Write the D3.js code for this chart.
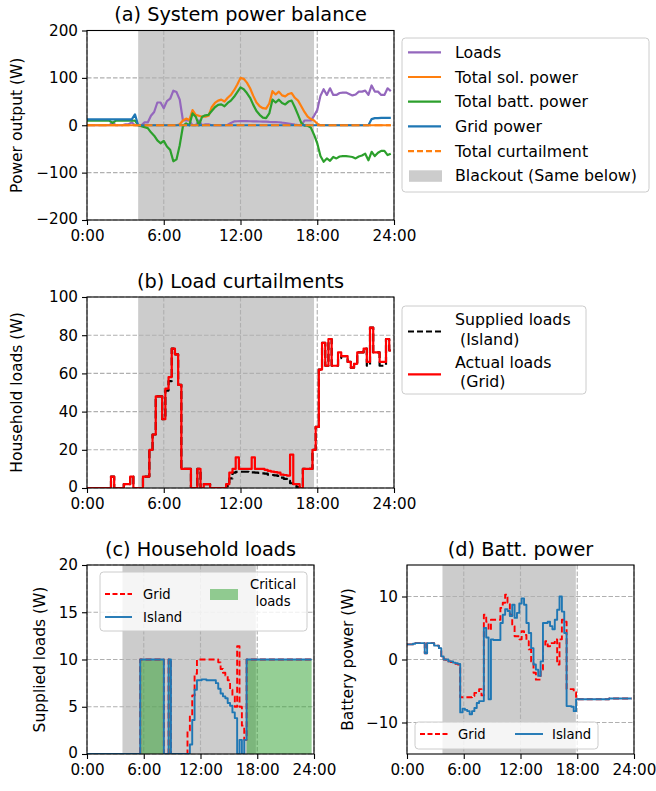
<!DOCTYPE html>
<html>
<head>
<meta charset="utf-8">
<script src="https://cdn.jsdelivr.net/npm/d3@7/dist/d3.min.js"></script>
<style>
html,body{margin:0;padding:0;background:#fff;}
svg text{font-family:"DejaVu Sans",sans-serif;}
</style>
</head>
<body>
<svg id="fig" width="656" height="791" xmlns="http://www.w3.org/2000/svg"></svg>
<script>
// ---------------- DATA (15-min resolution, 96 samples per day) ----------------
const hours = d3.range(96).map(i => i / 4);
const xTickValues = [0, 6, 12, 18, 24];
const xTickLabels = ["0:00", "6:00", "12:00", "18:00", "24:00"];

const yTicksA = [-200, -100, 0, 100, 200];
const yTicksB = [0, 20, 40, 60, 80, 100];
const yTicksC = [0, 5, 10, 15, 20];
const yTicksD = [-10, 0, 10];

const blackoutAB = [4.0, 17.75];
const blackoutCD = [3.75, 17.85];

// (a) System power balance
const loadsSupplied = [
  0,0,0,0,0,0,0,0,
  6,0,0,0,2,2,6,0,
  0,0,6,6,20,28,48,48,
  36,51,56,73,70,54,10,10,
  10,0,0,10,0,2,2,0,
  0,0,0,0,1,5,8,8.4,
  8.5,8.5,8.5,8.4,8.2,8.0,7.9,7.7,
  7.5,7.0,6.8,6.6,6.3,5.4,4.8,3.7,
  2.5,1.4,0.5,0,10,10,10,20,
  32,62,76,64,78,64,64,68,
  69,69,66,63,65,71,71,73,
  64,84,71,71,64,64,78,72
];
const loadsActual = [
  0,0,0,0,0,0,0,0,
  6,0,0,0,2,2,6,0,
  0,0,6,6,20,28,48,48,
  36,52,58,73,70,54,10,10,
  10,0,0,10,0,2,2,0,
  0,0,0,0,2,8,10,16,
  10,10,10,10,16,10,10,10,
  9.5,9.0,8.6,8.3,8.0,7.0,6.8,6.5,
  17.5,2,2,0,10,10,10,20,
  32,62,76,64,78,64,64,71,
  69,69,66,63,65,71,71,73,
  66,84,71,71,66,66,78,72
];
const solarPower = [
  0,0,0,0,0,0,0,0,
  0,0,0,0,0,0,0,0,
  0,0,0,0,0,0,0,0,
  0,0,0,0,0,2,10,14,
  11,32,22,20,18,18,20,38,
  47,52,54,50,58,64,74,86,
  100,98,90,78,62,48,40,36,
  35,46,72,65,71,63,61,66,
  68,58,52,40,28,18,13,10,
  3,0,0,0,0,0,0,0,
  0,0,0,0,0,0,0,0,
  0,0,0,0,0,0,0,0
];
const battPower = [
  9.5,9.5,9.5,9.5,9.5,9.5,9.5,9.5,
  5,9.5,9.5,9.5,9.5,9.5,9.5,10,
  0,-2,-4,-6,-15,-22,-32,-38,
  -33,-45,-52,-76,-72,-42,-2,4,
  0,25,18,0,18,21,22,30,
  38,43,44,40,47,52,60,70,
  80,76,68,58,43,30,22,16,
  15,25,54,48,54,47,44,50,
  52,38,22,5,-1,-1,-5,-20,
  -38,-65,-77,-70,-75,-67,-70,-66,
  -65,-65,-66,-67,-70,-66,-64,-60,
  -74,-56,-65,-58,-54,-54,-63,-60
];
const gridPower = [
  12.5,12.5,12.5,12.5,12.5,12.5,12.5,12.5,
  12.5,12.5,12.5,12.5,12.5,12.5,12.5,23,
  0,0,0,0,0,0,0,0,
  0,0,0,0,0,0,0,0,
  0,0,0,0,0,0,0,0,
  0,0,0,0,0,0,0,0,
  0,0,0,0,0,0,0,0,
  0,0,0,0,0,0,0,0,
  0,0,0,0,0,0,0,0,
  0,0,0,0,0,0,0,0,
  0,0,0,0,0,0,0,0,
  0,13,15,15,15.5,15.5,15.5,15.5
];
const curtailment = [
  0,0,0,0,0,0,0,0, 0,0,0,0,0,0,0,0, 0,0,0,0,0,0,0,0,
  0,0,0,0,0,0,0,0, 0,0,0,0,0,0,0,0, 0,0,0,0,0,0,0,0,
  0,0,0,0,0,0,0,0, 0,0,0,0,0,0,0,0, 0,0,0,0,0,0,0,0,
  0,0,0,0,0,0,0,0, 0,0,0,0,0,0,0,0, 0,0,0,0,0,0,0,0
];

// (c) Household loads
const houseGrid = [
  0,0,0,0,0,0,0,0,
  0,0,0,0,0,0,0,0,
  0,0,0,0,0,0,0,10,
  10,10,10,10,10,10,10,10,
  10,0,0,10,0,0,0,0,
  0,0,0,2.5,4.1,6.2,8.5,10,
  10,10,10,10,10,10,10,10,
  9.7,9.0,8.6,8.3,7.8,6.8,6.1,5.0,
  11.4,5.0,3.0,1.5,10,10,10,10,
  10,10,10,10,10,10,10,10,
  10,10,10,10,10,10,10,10,
  10,10,10,10,10,10,10,10
];
const houseIsland = [
  0,0,0,0,0,0,0,0,
  0,0,0,0,0,0,0,0,
  0,0,0,0,0,0,0,10,
  10,10,10,10,10,10,10,10,
  10,0,0,10,0,0,0,0,
  0,0,0,0,1.0,3.6,6.8,7.8,
  7.8,7.9,7.9,7.8,7.8,7.8,7.8,7.5,
  6.9,6.4,6.1,5.9,5.4,5.1,4.4,3.8,
  0,1.5,0,1.5,10,10,10,10,
  10,10,10,10,10,10,10,10,
  10,10,10,10,10,10,10,10,
  10,10,10,10,10,10,10,10
];
const criticalLoads = [
  0,0,0,0,0,0,0,0,
  0,0,0,0,0,0,0,0,
  0,0,0,0,0,0,0,10,
  10,10,10,10,10,10,10,10,
  10,0,0,10,0,0,0,0,
  0,0,0,0,0,0,0,0,
  0,0,0,0,0,0,0,0,
  0,0,0,0,0,0,0,0,
  0,0,0,0,10,10,10,10,
  10,10,10,10,10,10,10,10,
  10,10,10,10,10,10,10,10,
  10,10,10,10,10,10,10,10
];

// (d) Battery power
const battGrid = [
  2.4,2.4,2.4,2.5,2.6,2.6,2.6,2.6,
  1.0,2.6,2.6,2.6,2.2,2.2,1.8,0.5,
  0,-0.2,-0.3,-0.4,-0.5,-0.7,-0.8,-6.0,
  -6.0,-6.0,-6.0,-6.0,-5.8,-5.3,-5.3,-4.7,
  -5.7,7.1,6.0,4.7,6.3,6.3,6.3,6.3,
  8.2,9.0,10.3,9.0,7.1,5.3,3.7,3.7,
  3.2,4.5,3.9,2.9,1.6,-0.3,-2.1,-3.2,
  -3.2,-1.6,2.1,2.9,2.1,2.6,2.6,3.2,
  -0.8,3.2,6.3,6.0,-4.7,-4.7,-4.7,-5.2,
  -6.3,-6.3,-6.3,-6.3,-6.3,-6.3,-6.3,-6.3,
  -6.3,-6.3,-6.3,-6.3,-6.3,-6.3,-6.2,-6.2,
  -6.2,-6.2,-6.2,-6.2,-6.2,-6.2,-6.2,-6.2
];
const battIsland = [
  2.4,2.4,2.4,2.5,2.6,2.6,2.6,2.6,
  1.0,2.6,2.6,2.6,2.2,2.2,1.8,0.5,
  0,0,-0.3,-0.3,-0.5,-0.6,-0.7,-8.4,
  -7.8,-8.0,-8.2,-8.7,-8.2,-7.7,-6.9,-6.6,
  -6.6,5.0,3.5,-6.3,3.2,3.1,3.1,3.1,
  5.8,7.1,8.0,7.7,6.9,8.7,6.6,7.4,
  8.9,9.7,8.7,5.8,4.2,1.8,-0.8,-1.6,
  -2.6,-0.3,5.8,5.8,6.0,5.3,4.8,6.3,
  7.9,10.0,7.6,4.2,-7.4,-7.4,-7.5,-8.2,
  -6.3,-6.3,-6.3,-6.3,-6.3,-6.3,-6.3,-6.3,
  -6.3,-6.3,-6.3,-6.3,-6.3,-6.3,-6.2,-6.2,
  -6.2,-6.2,-6.2,-6.2,-6.2,-6.2,-6.2,-6.2
];

// ---------------- DRAWING ----------------
const svg = d3.select("#fig");
const FONT = "DejaVu Sans, sans-serif";
const FS_TICK = 15.2, FS_LAB = 15.5, FS_TITLE = 19.3, FS_LEG = 15.8, FS_LEG_S = 13.2;
const C = {purple:"#9467bd", orange:"#ff7f0e", green:"#2ca02c", blue:"#1f77b4", red:"#ff0000", gray:"#cccccc"};
const defs = svg.append("defs");
const fmtY = d => d < 0 ? "\u2212" + Math.abs(d) : String(d);

function setupPanel(cfg) {
  const x = d3.scaleLinear().domain([0, 24]).range([cfg.left, cfg.right]);
  const y = d3.scaleLinear().domain(cfg.yDomain).range([cfg.bottom, cfg.top]);
  const id = "clip-" + cfg.id;
  defs.append("clipPath").attr("id", id).append("rect")
    .attr("x", cfg.left).attr("y", cfg.top)
    .attr("width", cfg.right - cfg.left).attr("height", cfg.bottom - cfg.top);
  const g = svg.append("g");
  g.append("rect").attr("x", x(cfg.blackout[0])).attr("y", cfg.top)
    .attr("width", x(cfg.blackout[1]) - x(cfg.blackout[0]))
    .attr("height", cfg.bottom - cfg.top).attr("fill", C.gray);
  const grid = g.append("g").attr("stroke", "#b0b0b0").attr("stroke-width", 1.1)
    .attr("stroke-dasharray", "4.5,2").attr("fill", "none");
  xTickValues.forEach(v => grid.append("line").attr("x1", x(v)).attr("x2", x(v))
    .attr("y1", cfg.top).attr("y2", cfg.bottom));
  cfg.yTicks.forEach(v => grid.append("line").attr("x1", cfg.left).attr("x2", cfg.right)
    .attr("y1", y(v)).attr("y2", y(v)));
  const plot = g.append("g").attr("clip-path", `url(#${id})`);
  return {x, y, g, plot, cfg};
}

function finishPanel(P) {
  const {x, y, g, cfg} = P;
  g.append("rect").attr("x", cfg.left).attr("y", cfg.top)
    .attr("width", cfg.right - cfg.left).attr("height", cfg.bottom - cfg.top)
    .attr("fill", "none").attr("stroke", "#000").attr("stroke-width", 1.1);
  const xa = g.append("g").attr("transform", `translate(0,${cfg.bottom})`)
    .call(d3.axisBottom(x).tickValues(xTickValues).tickFormat((d, i) => xTickLabels[i])
      .tickSize(5).tickPadding(5.5));
  const ya = g.append("g").attr("transform", `translate(${cfg.left},0)`)
    .call(d3.axisLeft(y).tickValues(cfg.yTicks).tickFormat(fmtY).tickSize(5).tickPadding(4));
  [xa, ya].forEach(a => {
    a.select(".domain").remove();
    a.attr("font-family", FONT).attr("font-size", FS_TICK);
    a.selectAll("line").attr("stroke", "#000").attr("stroke-width", 1.1);
    a.selectAll("text").attr("fill", "#000");
  });
  // nudge the "0" y tick label up a touch so it clears the "0:00" x label
  ya.selectAll(".tick text").filter(d => d === cfg.yDomain[0]).attr("dy", "0.2em");
  g.append("text").attr("x", (cfg.left + cfg.right) / 2).attr("y", cfg.top - 9.5)
    .attr("text-anchor", "middle").attr("font-size", FS_TITLE).attr("fill", "#000").text(cfg.title);
  g.append("text").attr("transform", `translate(${cfg.ylabelX},${(cfg.top + cfg.bottom) / 2}) rotate(-90)`)
    .attr("text-anchor", "middle").attr("font-size", FS_LAB).attr("fill", "#000").text(cfg.ylabel);
}

function addPath(P, data, color, width, dash, curve) {
  P.plot.append("path").datum(data)
    .attr("d", d3.line().x((d, i) => P.x(hours[i])).y(d => P.y(d)).curve(curve || d3.curveLinear))
    .attr("fill", "none").attr("stroke", color).attr("stroke-width", width)
    .attr("stroke-dasharray", dash || null).attr("stroke-linejoin", "round");
}

function legendBox(x, y, w, h) {
  svg.append("rect").attr("x", x).attr("y", y).attr("width", w).attr("height", h)
    .attr("rx", 3.5).attr("fill", "#fff").attr("fill-opacity", 0.8)
    .attr("stroke", "#cccccc").attr("stroke-width", 1);
}
function legLine(x1, x2, y, color, w, dash) {
  svg.append("line").attr("x1", x1).attr("x2", x2).attr("y1", y).attr("y2", y)
    .attr("stroke", color).attr("stroke-width", w).attr("stroke-dasharray", dash || null);
}
function legText(x, y, s, fs, anchor) {
  svg.append("text").attr("x", x).attr("y", y).attr("font-size", fs)
    .attr("text-anchor", anchor || "start").attr("fill", "#000").text(s);
}

// ----- Panel (a)
const A = setupPanel({id:"a", left:87, right:394, top:30.5, bottom:220, yDomain:[-200, 200],
  yTicks:yTicksA, blackout:blackoutAB, title:"(a) System power balance",
  ylabel:"Power output (W)", ylabelX:22});
addPath(A, loadsSupplied, C.purple, 2.2);
addPath(A, solarPower, C.orange, 2.2);
addPath(A, battPower, C.green, 2.2);
addPath(A, gridPower, C.blue, 2.2);
addPath(A, curtailment, C.orange, 2.2, "8,3.5");
finishPanel(A);

legendBox(402, 38, 247, 154);
const legA = [
  {t:"Loads", c:C.purple}, {t:"Total sol. power", c:C.orange},
  {t:"Total batt. power", c:C.green}, {t:"Grid power", c:C.blue},
  {t:"Total curtailment", c:C.orange, dash:"6,3"}, {t:"Blackout (Same below)", patch:true}
];
legA.forEach((e, i) => {
  const cy = 52.3 + i * 24.7;
  if (e.patch) {
    svg.append("rect").attr("x", 409).attr("y", cy - 5.5).attr("width", 33).attr("height", 11.5).attr("fill", C.gray);
  } else {
    legLine(408, 441, cy, e.c, 2.2, e.dash);
  }
  legText(455, cy + 5.6, e.t, FS_LEG);
});

// ----- Panel (b)
const B = setupPanel({id:"b", left:87, right:394, top:297, bottom:488, yDomain:[0, 100],
  yTicks:yTicksB, blackout:blackoutAB, title:"(b) Load curtailments",
  ylabel:"Household loads (W)", ylabelX:22});
addPath(B, loadsSupplied, "#000", 2.2, "8,3.5", d3.curveStep);
addPath(B, loadsActual, C.red, 2.2, null, d3.curveStep);
finishPanel(B);

legendBox(402, 306, 184, 88);
legLine(408, 441, 331.5, "#000", 2.2, "6,3");
legText(455, 325, "Supplied loads", FS_LEG);
legText(460, 345, "(Island)", FS_LEG);
legLine(408, 441, 374.3, C.red, 2.2);
legText(455, 368, "Actual loads", FS_LEG);
legText(460, 387, "(Grid)", FS_LEG);

// ----- Panel (c)
const Cp = setupPanel({id:"c", left:87, right:314, top:565, bottom:754, yDomain:[0, 20],
  yTicks:yTicksC, blackout:blackoutCD, title:"(c) Household loads",
  ylabel:"Supplied loads (W)", ylabelX:45});
Cp.plot.append("path").datum(criticalLoads)
  .attr("d", d3.area().x((d, i) => Cp.x(hours[i])).y0(Cp.y(0)).y1(d => Cp.y(d)).curve(d3.curveStep))
  .attr("fill", C.green).attr("fill-opacity", 0.5);
addPath(Cp, houseGrid, C.red, 1.9, "6,3", d3.curveStep);
addPath(Cp, houseIsland, C.blue, 1.9, null, d3.curveStep);
finishPanel(Cp);

legendBox(100, 572, 207, 59);
legLine(105, 132, 594, C.red, 1.9, "5,2.5");
legText(143, 598.6, "Grid", FS_LEG_S);
legLine(105, 132, 617, C.blue, 1.9);
legText(143, 621.6, "Island", FS_LEG_S);
svg.append("rect").attr("x", 210).attr("y", 589).attr("width", 28).attr("height", 11)
  .attr("fill", C.green).attr("fill-opacity", 0.5);
legText(273, 589, "Critical", FS_LEG_S, "middle");
legText(273, 606, "loads", FS_LEG_S, "middle");

// ----- Panel (d)
const D = setupPanel({id:"d", left:407, right:634, top:565, bottom:754, yDomain:[-15, 15],
  yTicks:yTicksD, blackout:blackoutCD, title:"(d) Batt. power",
  ylabel:"Battery power (W)", ylabelX:353});
addPath(D, battGrid, C.red, 1.9, "6,3", d3.curveStep);
addPath(D, battIsland, C.blue, 1.9, null, d3.curveStep);
finishPanel(D);

legendBox(415, 722, 183, 27);
legLine(420, 448, 734, C.red, 1.9, "5,2.5");
legText(458, 738.6, "Grid", FS_LEG_S);
legLine(515, 543, 734, C.blue, 1.9);
legText(552, 738.6, "Island", FS_LEG_S);
</script>
</body>
</html>
